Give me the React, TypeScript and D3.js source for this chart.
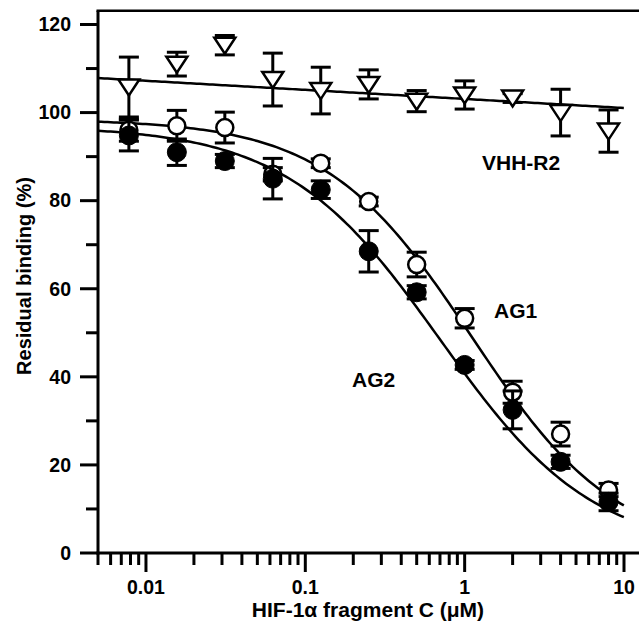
import React, { useEffect, useRef } from 'react'
import * as d3 from 'd3'

// twofold dilution series (µM)
const concentrations = [0.0078125, 0.015625, 0.03125, 0.0625, 0.125, 0.25, 0.5, 1, 2, 4, 8]

// residual binding (%) and error
const ag1Mean = [96, 97, 96.6, 86, 88.5, 79.8, 65.5, 53.3, 36.5, 27, 14.3]
const ag1Err = [2.5, 3.5, 3.5, 1.5, 1, 1, 2.8, 2.2, 2.5, 2.7, 1.5]
const ag2Mean = [94.8, 91, 89, 85, 82.5, 68.5, 59.2, 42.7, 32.5, 20.7, 11.6]
const ag2Err = [3.5, 3, 1.5, 4.6, 2, 4.7, 1.5, 1, 4.3, 1.5, 2]
const vhhMean = [105.8, 111, 115.3, 107.5, 105, 106.4, 102.6, 104, 103.3, 100, 95.8]
const vhhErr = [6.8, 2.7, 2.2, 6, 5.3, 3.3, 2.4, 3.2, 1, 5.3, 4.8]

// fitted curves: [top, bottom, IC50, hill]
const ag1Fit = [98.5, 0, 1.1, 0.95]
const ag2Fit = [97, 0, 0.7, 0.9]
// VHH-R2: [value at 1 µM, change per decade]
const vhhFit = [103.1, -2.06]

const yTicks = [0, 20, 40, 60, 80, 100, 120]
const yMinorTicks = [10, 30, 50, 70, 90, 110]
const xTickLabels = ['0.01', '0.1', '1', '10']

const App = () => {
  const svgRef = useRef<SVGSVGElement>(null)

  useEffect(() => {
    const width = 639
    const height = 625
    const font = '"Liberation Sans", Arial, Helvetica, sans-serif'

    const svg = d3.select(svgRef.current)
    svg.selectAll('*').remove()
    svg.attr('width', width).attr('height', height)

    const x = d3.scaleLog().domain([0.005, 10]).range([98, 624])
    const y = d3.scaleLinear().domain([0, 120]).range([553, 24.5])

    const g = svg.append('g')

    // frame: left + bottom axis, top line
    g.append('line')
      .attr('x1', x(0.005)).attr('x2', x(0.005))
      .attr('y1', y(0) + 1.5).attr('y2', y(123.1))
      .attr('stroke', '#000').attr('stroke-width', 3)
    g.append('line')
      .attr('x1', x(0.005) - 1.5).attr('x2', width)
      .attr('y1', y(0)).attr('y2', y(0))
      .attr('stroke', '#000').attr('stroke-width', 3)
    g.append('line')
      .attr('x1', x(0.005) - 1.5).attr('x2', width)
      .attr('y1', y(123.1)).attr('y2', y(123.1))
      .attr('stroke', '#000').attr('stroke-width', 2.5)

    // y ticks
    g.selectAll('.ymaj')
      .data(yTicks)
      .join('line')
      .attr('x1', x(0.005) - 18).attr('x2', x(0.005))
      .attr('y1', d => y(d)).attr('y2', d => y(d))
      .attr('stroke', '#000').attr('stroke-width', 3)
    g.selectAll('.ymin')
      .data(yMinorTicks)
      .join('line')
      .attr('x1', x(0.005) - 12).attr('x2', x(0.005))
      .attr('y1', d => y(d)).attr('y2', d => y(d))
      .attr('stroke', '#000').attr('stroke-width', 3)
    g.selectAll('.ylab')
      .data(yTicks)
      .join('text')
      .attr('x', 71)
      .attr('y', d => y(d) + 6.8)
      .attr('text-anchor', 'end')
      .style('font-family', font)
      .style('font-weight', 'bold')
      .style('font-size', '19.5px')
      .text(d => d)

    // x ticks (log)
    const xt = x.ticks()
    const isMajor = (v: number) => Math.abs(Math.log10(v) - Math.round(Math.log10(v))) < 1e-6
    g.selectAll('.xt')
      .data(xt)
      .join('line')
      .attr('x1', d => x(d)).attr('x2', d => x(d))
      .attr('y1', y(0))
      .attr('y2', d => y(0) + (isMajor(d) ? 19 : 12))
      .attr('stroke', '#000').attr('stroke-width', 3)
    g.selectAll('.xlab')
      .data(xTickLabels)
      .join('text')
      .attr('x', d => x(+d))
      .attr('y', 594)
      .attr('text-anchor', 'middle')
      .style('font-family', font)
      .style('font-weight', 'bold')
      .style('font-size', '19.5px')
      .text(d => d)

    // axis titles
    g.append('text')
      .attr('x', 368)
      .attr('y', 617)
      .attr('text-anchor', 'middle')
      .style('font-family', font)
      .style('font-weight', 'bold')
      .style('font-size', '21px')
      .text('HIF-1α fragment C (μM)')
    g.append('text')
      .attr('transform', 'translate(31,276) rotate(-90)')
      .attr('text-anchor', 'middle')
      .style('font-family', font)
      .style('font-weight', 'bold')
      .style('font-size', '20px')
      .text('Residual binding (%)')

    // fitted curves
    const logx = d3.range(Math.log10(0.005), Math.log10(10) + 1e-9, 0.02).map(v => Math.pow(10, v))
    const hill = (p: number[]) => (c: number) => p[1] + (p[0] - p[1]) / (1 + Math.pow(c / p[2], p[3]))
    const line = d3.line<[number, number]>().x(d => x(d[0])).y(d => y(d[1])).curve(d3.curveLinear)

    const drawSeries = (
      mean: number[],
      err: number[],
      fit: (c: number) => number,
      marker: 'tri' | 'open' | 'filled'
    ) => {
      g.append('path')
        .attr('d', line(logx.map(c => [c, fit(c)] as [number, number])))
        .attr('fill', 'none').attr('stroke', '#000').attr('stroke-width', 2.5)

      const pts = concentrations.map((c, i) => ({ c, m: mean[i], e: err[i] }))
      const eb = g.append('g').attr('stroke', '#000').attr('stroke-width', 3)
      eb.selectAll('line.v').data(pts).join('line')
        .attr('x1', d => x(d.c)).attr('x2', d => x(d.c))
        .attr('y1', d => y(d.m - d.e)).attr('y2', d => y(d.m + d.e))
      eb.selectAll('line.t').data(pts).join('line')
        .attr('x1', d => x(d.c) - 10).attr('x2', d => x(d.c) + 10)
        .attr('y1', d => y(d.m + d.e)).attr('y2', d => y(d.m + d.e))
      eb.selectAll('line.b').data(pts).join('line')
        .attr('x1', d => x(d.c) - 10).attr('x2', d => x(d.c) + 10)
        .attr('y1', d => y(d.m - d.e)).attr('y2', d => y(d.m - d.e))

      if (marker === 'tri') {
        g.append('g').selectAll('path').data(pts).join('path')
          .attr('d', 'M-10.5,-7.5L10.5,-7.5L0,8.5Z')
          .attr('transform', d => `translate(${x(d.c)},${y(d.m)})`)
          .attr('fill', '#fff').attr('stroke', '#000').attr('stroke-width', 2.5)
      } else {
        g.append('g').selectAll('circle').data(pts).join('circle')
          .attr('cx', d => x(d.c)).attr('cy', d => y(d.m))
          .attr('r', marker === 'open' ? 8.5 : 9.5)
          .attr('fill', marker === 'open' ? '#fff' : '#000')
          .attr('stroke', '#000').attr('stroke-width', marker === 'open' ? 2.5 : 1)
      }
    }

    drawSeries(vhhMean, vhhErr, c => vhhFit[0] + vhhFit[1] * Math.log10(c), 'tri')
    drawSeries(ag1Mean, ag1Err, hill(ag1Fit), 'open')
    drawSeries(ag2Mean, ag2Err, hill(ag2Fit), 'filled')

    // series labels
    const labels = [
      { t: 'VHH-R2', x: 482, y: 170 },
      { t: 'AG1', x: 494, y: 318 },
      { t: 'AG2', x: 352, y: 387 },
    ]
    g.selectAll('.slab').data(labels).join('text')
      .attr('x', d => d.x).attr('y', d => d.y)
      .style('font-family', font)
      .style('font-weight', 'bold')
      .style('font-size', '21px')
      .text(d => d.t)
  }, [])

  return (
    <svg ref={svgRef} style={{ position: 'absolute', left: 0, top: 0, background: '#fff' }}></svg>
  )
}

export default App
